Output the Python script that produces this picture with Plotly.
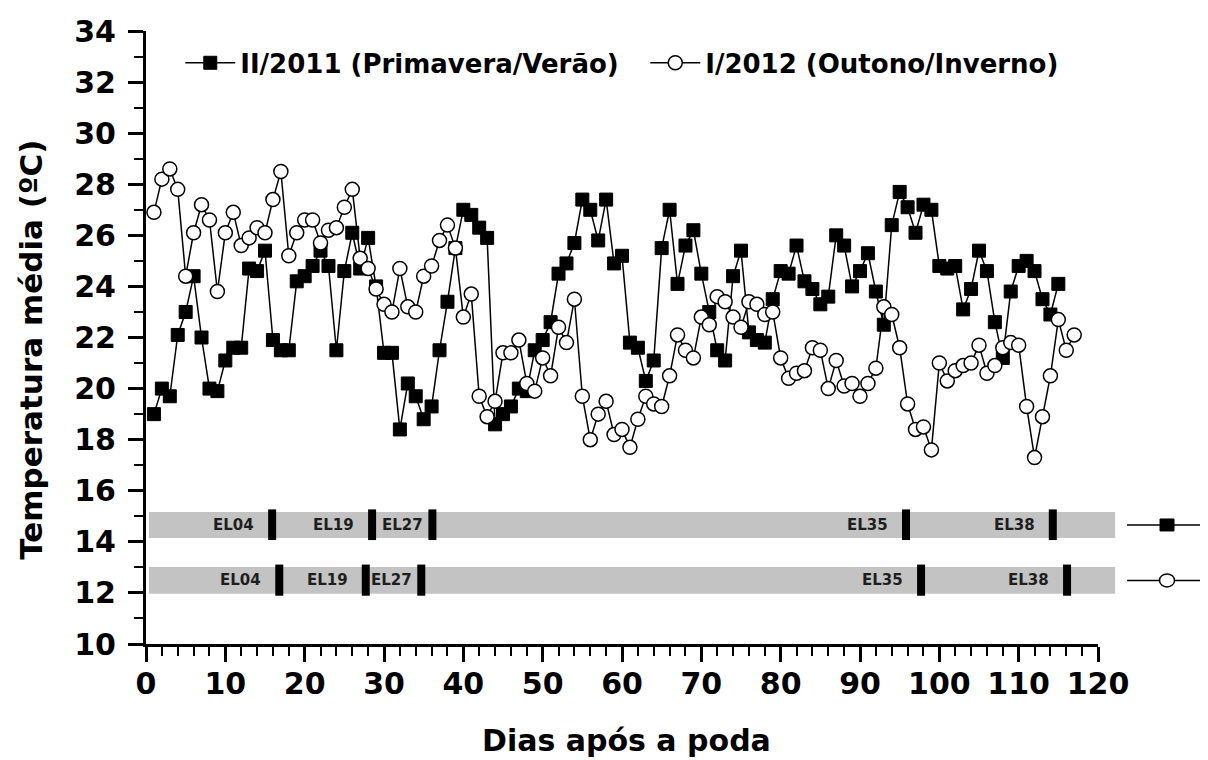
import plotly.graph_objects as go

# ---------------- data ----------------
days_2011 = list(range(1, 116))
temp_2011 = [19.0, 20.0, 19.7, 22.1, 23.0, 24.4, 22.0, 20.0, 19.9, 21.1,
             21.6, 21.6, 24.7, 24.6, 25.4, 21.9, 21.5, 21.5, 24.2, 24.4,
             24.8, 25.4, 24.8, 21.5, 24.6, 26.1, 24.7, 25.9, 24.0, 21.4,
             21.4, 18.4, 20.2, 19.7, 18.8, 19.3, 21.5, 23.4, 25.5, 27.0,
             26.8, 26.3, 25.9, 18.6, 19.0, 19.3, 20.0, 19.9, 21.5, 21.9,
             22.6, 24.5, 24.9, 25.7, 27.4, 27.0, 25.8, 27.4, 24.9, 25.2,
             21.8, 21.6, 20.3, 21.1, 25.5, 27.0, 24.1, 25.6, 26.2, 24.5,
             23.0, 21.5, 21.1, 24.4, 25.4, 22.2, 21.9, 21.8, 23.5, 24.6,
             24.5, 25.6, 24.2, 23.9, 23.3, 23.6, 26.0, 25.6, 24.0, 24.6,
             25.3, 23.8, 22.5, 26.4, 27.7, 27.1, 26.1, 27.2, 27.0, 24.8,
             24.7, 24.8, 23.1, 23.9, 25.4, 24.6, 22.6, 21.2, 23.8, 24.8,
             25.0, 24.6, 23.5, 22.9, 24.1]

days_2012 = list(range(1, 118))
temp_2012 = [26.9, 28.2, 28.6, 27.8, 24.4, 26.1, 27.2, 26.6, 23.8, 26.1,
             26.9, 25.6, 25.9, 26.3, 26.1, 27.4, 28.5, 25.2, 26.1, 26.6,
             26.6, 25.7, 26.2, 26.3, 27.1, 27.8, 25.1, 24.7, 23.9, 23.3,
             23.0, 24.7, 23.2, 23.0, 24.4, 24.8, 25.8, 26.4, 25.5, 22.8,
             23.7, 19.7, 18.9, 19.5, 21.4, 21.4, 21.9, 20.2, 19.9, 21.2,
             20.5, 22.4, 21.8, 23.5, 19.7, 18.0, 19.0, 19.5, 18.2, 18.4,
             17.7, 18.8, 19.7, 19.4, 19.3, 20.5, 22.1, 21.5, 21.2, 22.8,
             22.5, 23.6, 23.4, 22.8, 22.4, 23.4, 23.3, 22.9, 23.0, 21.2,
             20.4, 20.6, 20.7, 21.6, 21.5, 20.0, 21.1, 20.1, 20.2, 19.7,
             20.2, 20.8, 23.2, 22.9, 21.6, 19.4, 18.4, 18.5, 17.6, 21.0,
             20.3, 20.7, 20.9, 21.0, 21.7, 20.6, 20.9, 21.6, 21.8, 21.7,
             19.3, 17.3, 18.9, 20.5, 22.7, 21.5, 22.1]

series_names = ["II/2011 (Primavera/Verão)", "I/2012 (Outono/Inverno)"]

stage_labels = ["EL04", "EL19", "EL27", "EL35", "EL38"]
stage_days_2011 = [15.9, 28.5, 36.1, 95.8, 114.3]
stage_days_2012 = [16.8, 27.7, 34.7, 97.7, 116.1]

x_ticks = [0, 10, 20, 30, 40, 50, 60, 70, 80, 90, 100, 110, 120]
y_ticks = [10, 12, 14, 16, 18, 20, 22, 24, 26, 28, 30, 32, 34]

x_title = "Dias após a poda"
y_title = "Temperatura média (ºC)"

# ---------------- styles ----------------
FONT = "DejaVu Sans"
band_y = {"2011": (14.15, 15.17), "2012": (11.97, 13.01)}

fig = go.Figure()

fig.add_trace(go.Scatter(
    x=days_2011, y=temp_2011, name=series_names[0], mode="lines+markers",
    line=dict(color="black", width=1.5),
    marker=dict(symbol="square", size=13, color="black",
                line=dict(color="black", width=1)),
))
fig.add_trace(go.Scatter(
    x=days_2012, y=temp_2012, name=series_names[1], mode="lines+markers",
    line=dict(color="black", width=1.5),
    marker=dict(symbol="circle", size=14, color="white",
                line=dict(color="black", width=1.5)),
))

shapes = []
annotations = []
for key, sdays in (("2011", stage_days_2011), ("2012", stage_days_2012)):
    y0, y1 = band_y[key]
    yc = (y0 + y1) / 2
    shapes.append(dict(type="rect", xref="paper", yref="y", x0=0.003, x1=1.018,
                       y0=y0, y1=y1, fillcolor="#c3c3c3", line=dict(width=0),
                       layer="below"))
    shapes.append(dict(type="line", xref="paper", yref="y", x0=1.0305, x1=1.1134,
                       y0=yc, y1=yc, line=dict(color="black", width=1.5)))
    if key == "2011":
        shapes.append(dict(type="rect", xref="paper", yref="y", xsizemode="pixel",
                           ysizemode="pixel", xanchor=1.0725, yanchor=yc,
                           x0=-7, x1=7, y0=-6, y1=6, fillcolor="black",
                           line=dict(color="black", width=1)))
    else:
        shapes.append(dict(type="circle", xref="paper", yref="y", xsizemode="pixel",
                           ysizemode="pixel", xanchor=1.0725, yanchor=yc,
                           x0=-7.5, x1=7.5, y0=-6.5, y1=6.5, fillcolor="white",
                           line=dict(color="black", width=1.5)))
    for lab, d in zip(stage_labels, sdays):
        shapes.append(dict(type="rect", xref="x", yref="y", xsizemode="pixel",
                           xanchor=d, x0=-4, x1=4, y0=y0 - 0.08, y1=y1 + 0.1,
                           fillcolor="black", line=dict(width=0)))
        annotations.append(dict(x=d, y=yc, xref="x", yref="y", text=lab,
                                showarrow=False, xanchor="right", yanchor="middle",
                                xshift=-7 if lab == "EL27" else -16,
                                font=dict(family=FONT, size=15, weight="bold",
                                          color="#1e1e1e")))

annotations.append(dict(text=y_title, xref="paper", yref="paper", x=0, y=0.48,
                        xanchor="center", yanchor="middle", xshift=-115,
                        textangle=-90, showarrow=False,
                        font=dict(family=FONT, size=31, weight="bold", color="black")))
annotations.append(dict(text=x_title, xref="paper", yref="paper", x=0.505, y=0,
                        xanchor="center", yanchor="middle", yshift=-96,
                        showarrow=False,
                        font=dict(family=FONT, size=30, weight="bold", color="black")))

axis_common = dict(
    showline=True, linecolor="black", linewidth=3, mirror=False,
    ticks="outside", tickcolor="black", tickwidth=3, ticklen=15,
    showgrid=False, zeroline=False, automargin=False,
    tickfont=dict(family=FONT, size=30, weight="bold", color="black"),
)

# page body adds an 8px offset, so the figure origin sits at (8, 8)
fig.update_layout(
    width=1208, height=760,
    margin=dict(l=138, r=118, t=23, b=124, autoexpand=False),
    plot_bgcolor="white", paper_bgcolor="white",
    showlegend=True,
    legend=dict(orientation="h", x=0.036, y=0.948, xanchor="left", yanchor="middle",
                font=dict(family=FONT, size=26, weight="bold", color="black"),
                bgcolor="rgba(0,0,0,0)", itemwidth=50, entrywidth=400),
    xaxis=dict(range=[0, 120], tickvals=x_ticks, ticktext=[str(v) for v in x_ticks],
               ticklabelstandoff=-4,
               minor=dict(dtick=2, tick0=0, ticks="outside", ticklen=9, tickwidth=2,
                          tickcolor="black"),
               **axis_common),
    yaxis=dict(range=[10, 34], tickvals=y_ticks, ticktext=[str(v) for v in y_ticks],
               ticklabelstandoff=6,
               minor=dict(dtick=1, tick0=10, ticks="outside", ticklen=9, tickwidth=2,
                          tickcolor="black"),
               **axis_common),
    shapes=shapes,
    annotations=annotations,
)

fig.write_html("out.html")
